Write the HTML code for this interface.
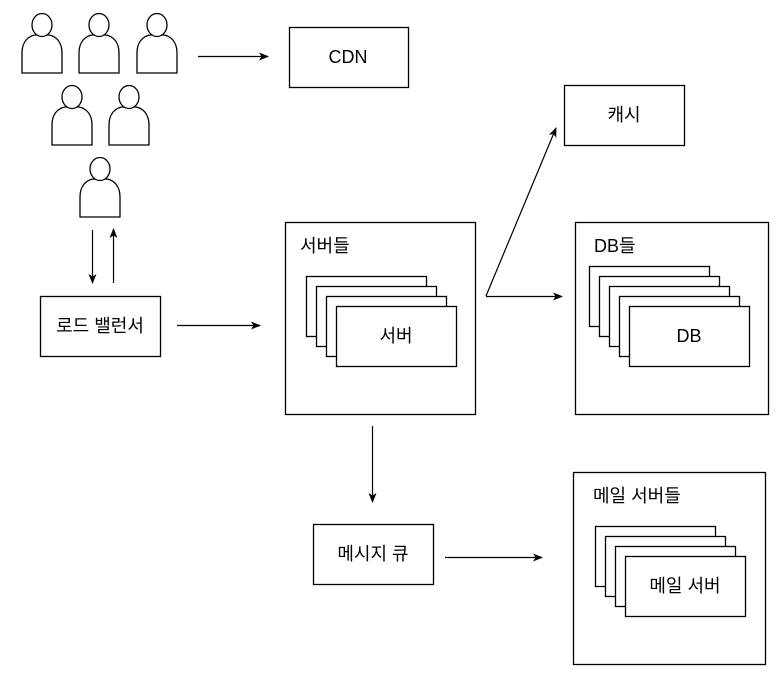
<!DOCTYPE html>
<html><head><meta charset="utf-8"><style>
html,body{margin:0;padding:0;background:#fff;}
svg{display:block;}
text{font-family:"Liberation Sans","Noto Sans CJK KR",sans-serif;font-size:18px;fill:#000;}
</style></head><body>
<svg width="784" height="679" viewBox="0 0 784 679" xmlns="http://www.w3.org/2000/svg">
<defs>
<marker id="a" markerWidth="10" markerHeight="8" refX="9" refY="4" orient="auto" markerUnits="userSpaceOnUse">
<path d="M0,0 L10,4 L0,8 L2.5,4 Z" fill="#000"/></marker>
<g id="p">
<path d="M0,60 L0,40 C0,28 7,23 13,22 L27,22 C33,23 40,28 40,40 L40,60 Z" fill="#fff" stroke="#000" stroke-width="1.3"/>
<ellipse cx="20" cy="12" rx="10" ry="11.5" fill="#fff" stroke="#000" stroke-width="1.3"/>
</g>
</defs>
<g>
<use href="#p" x="22" y="13"/>
<use href="#p" x="79" y="13"/>
<use href="#p" x="137" y="13"/>
<use href="#p" x="52" y="85"/>
<use href="#p" x="109" y="85"/>
<use href="#p" x="80" y="157"/>
</g>
<g fill="#fff" stroke="#000" stroke-width="1.3">
<rect x="289.5" y="27.5" width="119" height="60"/>
<rect x="564.5" y="85.5" width="120" height="60"/>
<rect x="40.5" y="296.5" width="120" height="60"/>
<rect x="285.5" y="222.5" width="190" height="192"/>
<rect x="306.5" y="276.5" width="120" height="60"/>
<rect x="316.5" y="286.5" width="120" height="60"/>
<rect x="326.5" y="296.5" width="120" height="60"/>
<rect x="336.5" y="306.5" width="120" height="60"/>
<rect x="575.5" y="222.5" width="193" height="192"/>
<rect x="589.5" y="266.5" width="120" height="60"/>
<rect x="599.5" y="276.5" width="120" height="60"/>
<rect x="609.5" y="286.5" width="120" height="60"/>
<rect x="619.5" y="296.5" width="120" height="60"/>
<rect x="629.5" y="306.5" width="120" height="60"/>
<rect x="313.5" y="524.5" width="120" height="60"/>
<rect x="573.5" y="472.5" width="192" height="192"/>
<rect x="595.5" y="526.5" width="120" height="60"/>
<rect x="605.5" y="536.5" width="120" height="60"/>
<rect x="615.5" y="546.5" width="120" height="60"/>
<rect x="625.5" y="556.5" width="120" height="60"/>
</g>
<g stroke="#000" stroke-width="1.2" fill="none" marker-end="url(#a)">
<line x1="198" y1="56.5" x2="268" y2="56.5"/>
<line x1="92.5" y1="230" x2="92.5" y2="283"/>
<line x1="113.5" y1="283" x2="113.5" y2="229"/>
<line x1="177" y1="325.5" x2="260" y2="325.5"/>
<line x1="486" y1="296" x2="556" y2="128"/>
<line x1="486" y1="296.5" x2="562" y2="296.5"/>
<line x1="372.5" y1="426" x2="372.5" y2="502"/>
<line x1="445" y1="557.5" x2="542" y2="557.5"/>
</g>
<text x="348" y="63" text-anchor="middle">CDN</text>
<text x="624" y="121" text-anchor="middle">캐시</text>
<text x="100" y="332" text-anchor="middle">로드 밸런서</text>
<text x="300" y="252">서버들</text>
<text x="396" y="342" text-anchor="middle">서버</text>
<text x="594" y="252">DB들</text>
<text x="689" y="342" text-anchor="middle">DB</text>
<text x="373" y="560" text-anchor="middle">메시지 큐</text>
<text x="593" y="502">메일 서버들</text>
<text x="685" y="592" text-anchor="middle">메일 서버</text>
</svg>
</body></html>
